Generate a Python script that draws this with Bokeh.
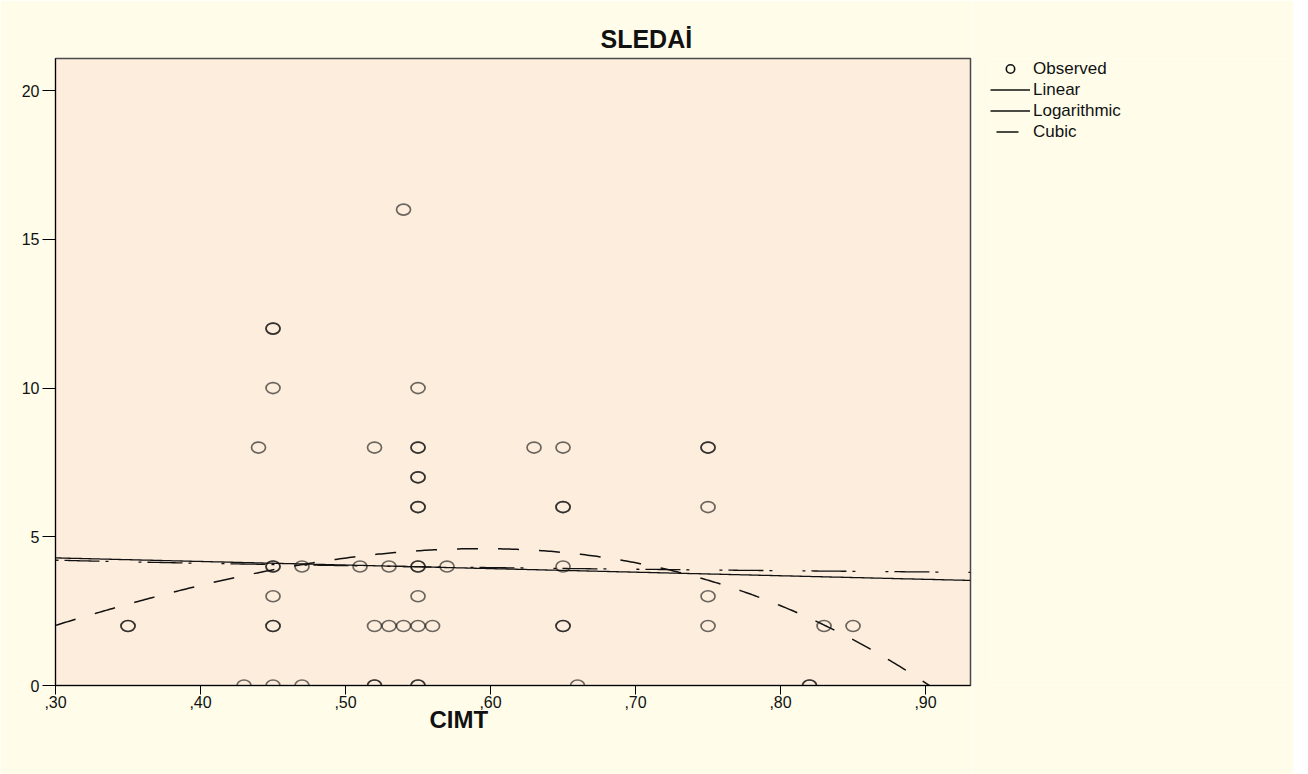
import numpy as np
from bokeh.plotting import figure
from bokeh.layouts import row
from bokeh.models import (ColumnDataSource, Range1d, FixedTicker, Title, Legend,
                          LegendItem)
from bokeh.embed import file_html
from bokeh.resources import INLINE

# ---------------- data ----------------
cimt = [0.35, 0.35, 0.43, 0.44,
        0.45, 0.45, 0.45, 0.45, 0.45, 0.45, 0.45, 0.45, 0.45,
        0.47, 0.47, 0.51,
        0.52, 0.52, 0.52, 0.52,
        0.53, 0.53, 0.54, 0.54,
        0.55, 0.55, 0.55, 0.55, 0.55, 0.55, 0.55, 0.55, 0.55, 0.55, 0.55, 0.55, 0.55,
        0.56, 0.57, 0.63,
        0.65, 0.65, 0.65, 0.65, 0.65, 0.65,
        0.66,
        0.75, 0.75, 0.75, 0.75, 0.75,
        0.82, 0.82, 0.83, 0.85]
sledai = [2, 2, 0, 8,
          12, 12, 10, 4, 4, 3, 2, 2, 0,
          4, 0, 4,
          8, 2, 0, 0,
          4, 2, 16, 2,
          10, 8, 8, 7, 7, 6, 6, 4, 4, 3, 2, 0, 0,
          2, 4, 8,
          8, 6, 6, 4, 2, 2,
          0,
          8, 8, 6, 3, 2,
          0, 0, 2, 2]

# fitted-model coefficients (estimated from the drawn curves)
linear_coef = [4.65, -1.20]              # y = a + b*x
log_coef = [3.78, -0.36]                 # y = a + b*ln(x)
cubic_center = 0.60
cubic_coef = [4.60, -0.48, -39.4, -30.5]  # y = c0 + c1*t + c2*t^2 + c3*t^3, t = x - center

x_ticks = [0.30, 0.40, 0.50, 0.60, 0.70, 0.80, 0.90]
x_tick_labels = [",30", ",40", ",50", ",60", ",70", ",80", ",90"]
y_ticks = [0, 5, 10, 15, 20]

title_text = "SLEDAİ"
x_label = "CIMT"
legend_labels = ["Observed", "Linear", "Logarithmic", "Cubic"]

# ---------------- styles ----------------
CREAM = "#FFFDEA"
PEACH = "#FDEDDC"
FONT = "Liberation Sans"
X0, X1 = 0.30, 0.931
Y0, Y1 = 0.0, 21.08

p = figure(width=972, height=774, x_range=Range1d(X0, X1), y_range=Range1d(Y0, Y1),
           output_backend="svg", toolbar_location=None,
           min_border_left=55, min_border_right=2, min_border_top=58, min_border_bottom=89,
           background_fill_color=PEACH, border_fill_color=CREAM)

p.outline_line_color = "#4a4a4a"
p.outline_line_width = 1.5
p.xgrid.visible = False
p.ygrid.visible = False

# title
p.title.text = title_text
p.title.align = "left"
p.title.offset = 545
p.title.text_font = FONT
p.title.text_font_size = "25px"
p.title.text_font_style = "bold"
p.title.text_color = "#111111"
p.title.standoff = 12

# axes
xa = p.xaxis[0]
xa.ticker = FixedTicker(ticks=x_ticks)
xa.major_label_overrides = {t: l for t, l in zip(x_ticks, x_tick_labels)}
xa.minor_tick_line_color = None
xa.major_tick_in = 0
xa.major_tick_out = 9
xa.major_label_standoff = 1
ya = p.yaxis[0]
ya.ticker = FixedTicker(ticks=y_ticks)
ya.minor_tick_line_color = None
ya.major_tick_in = 0
ya.major_tick_out = 13
ya.major_label_standoff = 3
for ax in (xa, ya):
    ax.axis_line_color = "#000000"
    ax.major_tick_line_color = "#000000"
    ax.major_label_text_font = FONT
    ax.major_label_text_font_size = "16px"
    ax.major_label_text_color = "#111111"

xt = Title(text=x_label, align="left", offset=374, text_font=FONT, text_font_size="24px",
           text_font_style="bold", text_color="#111111", standoff=-14)
p.add_layout(xt, "below")

# observed points
src = ColumnDataSource(dict(x=cimt, y=sledai))
p.ellipse(x="x", y="y", width=14, height=11, width_units="screen", height_units="screen",
          source=src, fill_color=None, line_color="#111111", line_alpha=0.62, line_width=1.7)

# fitted curves
xs = np.linspace(X0, X1, 400)
y_lin = linear_coef[0] + linear_coef[1] * xs
y_log = log_coef[0] + log_coef[1] * np.log(xs)
t = xs - cubic_center
y_cub = cubic_coef[0] + cubic_coef[1] * t + cubic_coef[2] * t ** 2 + cubic_coef[3] * t ** 3

p.line(xs, y_lin, line_color="#111111", line_width=1.3)
p.line(xs, y_log, line_color="#111111", line_width=1.3, line_dash="3 6 35 6 3 30")
p.line(xs, y_cub, line_color="#111111", line_width=1.5, line_dash="21 20")

# legend panel: a blank figure beside the chart with stand-in glyphs
p2 = figure(width=321, height=774, title=None, output_backend="svg", toolbar_location=None,
            x_range=Range1d(0, 1), y_range=Range1d(0, 1),
            x_axis_location=None, y_axis_location=None,
            min_border_left=18, min_border_right=0, min_border_top=58, min_border_bottom=0,
            background_fill_color=CREAM, border_fill_color=CREAM, outline_line_color=None)
p2.xgrid.visible = False
p2.ygrid.visible = False
off = ColumnDataSource(dict(x=[-5.0, -4.0], y=[-5.0, -4.0]))
r_obs = p2.scatter(x="x", y="y", source=off, marker="circle", size=11, fill_color=None,
                   line_color="#111111", line_width=1.6)
r_lin = p2.line(x="x", y="y", source=off, line_color="#111111", line_width=1.3)
r_log = p2.line(x="x", y="y", source=off, line_color="#111111", line_width=1.3)
r_cub = p2.line(x="x", y="y", source=off, line_color="#111111", line_width=1.5,
                line_dash="0 6 22 100")
legend = Legend(items=[LegendItem(label=l, renderers=[r]) for l, r in
                       zip(legend_labels, [r_obs, r_lin, r_log, r_cub])],
                location="top_left", orientation="vertical",
                background_fill_alpha=0, border_line_color=None,
                padding=0, margin=0, spacing=0, glyph_width=40, glyph_height=21,
                label_height=21, label_standoff=3,
                label_text_font=FONT, label_text_font_size="17px",
                label_text_color="#111111")
p2.add_layout(legend, "center")

layout = row(p, p2, spacing=0)
open("out.html", "w").write(file_html(layout, INLINE))
